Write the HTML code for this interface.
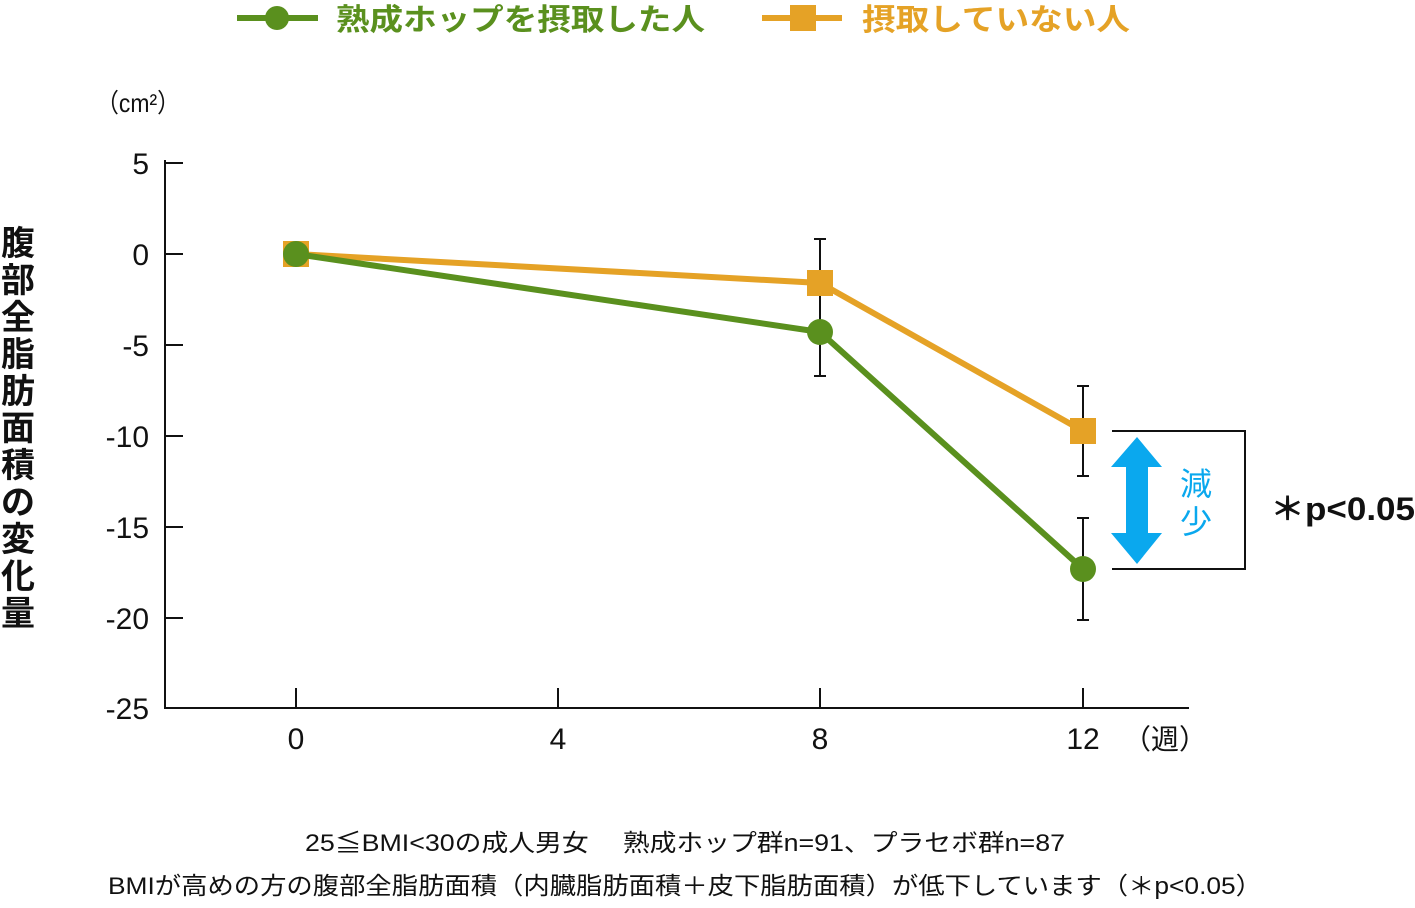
<!DOCTYPE html>
<html><head><meta charset="utf-8">
<style>
html,body{margin:0;padding:0;background:#fff;}
body{width:1415px;height:903px;overflow:hidden;}
svg text{font-family:"Liberation Sans","Noto Sans CJK JP",sans-serif;}
</style></head><body>
<svg width="1415" height="903" viewBox="0 0 1415 903" xmlns="http://www.w3.org/2000/svg">
<line x1="237" y1="18" x2="318" y2="18" stroke="#5a901e" stroke-width="6"/>
<circle cx="277" cy="18" r="12" fill="#5a901e"/>
<text x="336" y="30" font-size="30" font-weight="bold" fill="#5a901e" textLength="369" lengthAdjust="spacingAndGlyphs">熟成ホップを摂取した人</text>
<line x1="762" y1="18" x2="842" y2="18" stroke="#e5a226" stroke-width="6"/>
<rect x="790" y="5" width="26" height="26" fill="#e5a226"/>
<text x="862" y="30" font-size="30" font-weight="bold" fill="#e5a226" textLength="268" lengthAdjust="spacingAndGlyphs">摂取していない人</text>
<text x="96" y="112" font-size="26" fill="#111" textLength="84" lengthAdjust="spacingAndGlyphs">（cm²）</text>
<g font-size="34" font-weight="bold" fill="#111" text-anchor="middle">
<text x="18" y="255">腹</text><text x="18" y="292">部</text><text x="18" y="329">全</text><text x="18" y="366">脂</text><text x="18" y="403">肪</text><text x="18" y="440">面</text><text x="18" y="477">積</text><text x="18" y="514">の</text><text x="18" y="551">変</text><text x="18" y="588">化</text><text x="18" y="625">量</text>
</g>
<g stroke="#111" stroke-width="2" fill="none">
<line x1="165" y1="160" x2="165" y2="709"/>
<line x1="164" y1="708" x2="1189" y2="708"/>
<line x1="165" y1="163" x2="183" y2="163"/>
<line x1="165" y1="254" x2="183" y2="254"/>
<line x1="165" y1="345" x2="183" y2="345"/>
<line x1="165" y1="436" x2="183" y2="436"/>
<line x1="165" y1="527" x2="183" y2="527"/>
<line x1="165" y1="618" x2="183" y2="618"/>
<line x1="296" y1="708" x2="296" y2="688"/>
<line x1="558" y1="708" x2="558" y2="688"/>
<line x1="820" y1="708" x2="820" y2="688"/>
<line x1="1083" y1="708" x2="1083" y2="688"/>
</g>
<g font-size="30" fill="#111" text-anchor="end">
<text x="149" y="174">5</text><text x="149" y="265">0</text><text x="149" y="356">-5</text><text x="149" y="447">-10</text><text x="149" y="538">-15</text><text x="149" y="629">-20</text><text x="149" y="719">-25</text>
</g>
<g font-size="30" fill="#111" text-anchor="middle">
<text x="296" y="749">0</text><text x="558" y="749">4</text><text x="820" y="749">8</text><text x="1083" y="749">12</text>
</g>
<text x="1123" y="749" font-size="28" fill="#111">（週）</text>
<g stroke="#111" stroke-width="2">
<line x1="820" y1="239" x2="820" y2="376"/><line x1="814" y1="239" x2="826" y2="239"/><line x1="814" y1="376" x2="826" y2="376"/>
<line x1="1083" y1="386" x2="1083" y2="476"/><line x1="1077" y1="386" x2="1089" y2="386"/><line x1="1077" y1="476" x2="1089" y2="476"/>
<line x1="1083" y1="518" x2="1083" y2="620"/><line x1="1077" y1="518" x2="1089" y2="518"/><line x1="1077" y1="620" x2="1089" y2="620"/>
</g>
<polyline points="296,254 820,283 1083,431" fill="none" stroke="#e5a226" stroke-width="6"/>
<rect x="283" y="241" width="26" height="26" fill="#e5a226"/>
<rect x="807" y="270" width="26" height="26" fill="#e5a226"/>
<rect x="1070" y="418" width="26" height="26" fill="#e5a226"/>
<polyline points="296,254 820,332 1083,569" fill="none" stroke="#5a901e" stroke-width="6"/>
<circle cx="296" cy="254" r="13" fill="#5a901e"/>
<circle cx="820" cy="332" r="13" fill="#5a901e"/>
<circle cx="1083" cy="569" r="13" fill="#5a901e"/>
<polyline points="1112,431 1245,431 1245,569 1112,569" fill="none" stroke="#111" stroke-width="2"/>
<polygon points="1137,437 1162,467 1148,467 1148,533 1162,533 1137,564 1111,533 1126,533 1126,467 1111,467" fill="#0aa8ee"/>
<text x="1196" y="495" font-size="32" fill="#0aa8ee" text-anchor="middle">減</text>
<text x="1196" y="533" font-size="32" fill="#0aa8ee" text-anchor="middle">少</text>
<text x="1270" y="520" font-size="32" font-weight="bold" fill="#111" textLength="145" lengthAdjust="spacingAndGlyphs">＊p&lt;0.05</text>
<text x="305" y="851" font-size="24" fill="#111" textLength="760" lengthAdjust="spacingAndGlyphs">25≦BMI&lt;30の成人男女　 熟成ホップ群n=91、プラセボ群n=87</text>
<text x="108" y="894" font-size="24" fill="#111" textLength="1154" lengthAdjust="spacingAndGlyphs">BMIが高めの方の腹部全脂肪面積（内臓脂肪面積＋皮下脂肪面積）が低下しています（＊p&lt;0.05）</text>
</svg>
</body></html>
